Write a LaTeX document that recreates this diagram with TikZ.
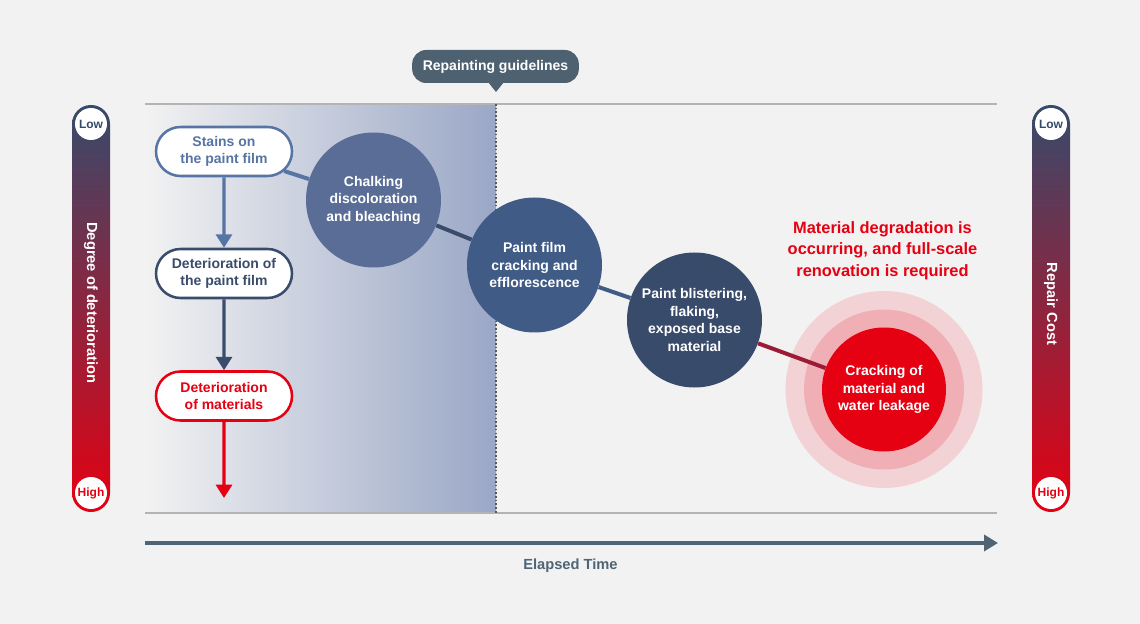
\documentclass[tikz,border=0pt]{standalone}
\usepackage{fontspec}
\setmainfont{Liberation Sans}
\usetikzlibrary{arrows.meta,shapes.misc}
\definecolor{bgc}{HTML}{F2F2F2}
\definecolor{steel}{HTML}{5674A4}
\definecolor{navy}{HTML}{3A4C6C}
\definecolor{redc}{HTML}{E50012}
\definecolor{chalkc}{HTML}{5A6D97}
\definecolor{filmc}{HTML}{3F5B86}
\definecolor{blisc}{HTML}{394B6B}
\definecolor{ringa}{HTML}{F0AEB5}
\definecolor{ringb}{HTML}{F2D2D5}
\definecolor{slate}{HTML}{4E6170}
\definecolor{axisc}{HTML}{4F6475}
\definecolor{gridc}{HTML}{B4B4B4}
\definecolor{shadeR}{HTML}{9AA7C6}
\definecolor{barTop}{HTML}{364A6B}
\definecolor{linkred}{HTML}{9C1B36}
\begin{document}
\begin{tikzpicture}[x=0.75pt,y=-0.75pt,
  stadium/.style={rounded rectangle, draw, fill=white, line width=1.9pt,
    minimum width=102pt, minimum height=36.75pt, inner sep=0pt, align=center,
    font=\bfseries\fontsize{10.5}{12.8}\selectfont},
  stagec/.style={circle, minimum size=101.25pt, inner sep=0pt, align=center,
    text=white, font=\bfseries\fontsize{10.5}{13.1}\selectfont},
  link/.style={line width=3pt},
  flow/.style={line width=2.3pt, -{Triangle[width=12pt,length=10pt]}},
  endmark/.style={circle, fill=white, minimum size=24pt, inner sep=0pt,
    font=\bfseries\fontsize{9}{10}\selectfont},
  bartext/.style={rotate=-90, text=white, font=\bfseries\fontsize{11}{13}\selectfont},
  gridline/.style={draw=gridc, line width=0.9pt}]
% background
\path[fill=bgc] (0,0) rectangle (1140,624);
% shaded zone
\shade[left color=bgc, right color=shadeR] (145,104) rectangle (496,513);
\draw[gridline] (145,104) -- (997,104);
\draw[gridline] (145,513) -- (997,513);
\draw[dash pattern=on 1.2pt off 1.6pt, draw=black!65, line width=0.9pt] (496,104) -- (496,513);
% callout
\node[fill=slate, rounded corners=10.5pt, minimum width=125pt, minimum height=24.75pt,
  inner sep=0pt, text=white, font=\bfseries\fontsize{10.5}{12}\selectfont]
  (guide) at (495.5,66.5) {Repainting guidelines};
\fill[slate] (488,82) -- (504,82) -- (496,92) -- cycle;
% bars
\shade[top color=barTop, bottom color=redc, rounded corners=14.2pt] (72,105) rectangle (110,512);
\shade[top color=barTop, bottom color=redc, rounded corners=14.2pt] (1032,105) rectangle (1070,512);
\node[endmark, text=barTop] (lowL) at (91,124) {Low};
\node[endmark, text=redc] (highL) at (91,493) {High};
\node[endmark, text=barTop] (lowR) at (1051,124) {Low};
\node[endmark, text=redc] (highR) at (1051,493) {High};
\node[bartext] (degree) at (91,303) {Degree of deterioration};
\node[bartext] (cost) at (1051,304) {Repair Cost};
% boxes
\node[stadium, draw=steel, text=steel] (stains) at (224,151.5) {Stains on\\the paint film};
\node[stadium, draw=navy, text=navy] (detfilm) at (224,273.5) {Deterioration of\\the paint film};
\node[stadium, draw=redc, text=redc] (detmat) at (224,396) {Deterioration\\of materials};
\coordinate (redend) at (224,498);
\draw[flow, steel] (stains) -- (detfilm);
\draw[flow, navy] (detfilm) -- (detmat);
\draw[flow, redc] (detmat) -- (redend);
% rings
\node[circle, fill=ringb, minimum size=147.75pt, inner sep=0pt] (ring2) at (884,389.5) {};
\node[circle, fill=ringa, minimum size=120pt, inner sep=0pt] (ring1) at (884,389.5) {};
% circles
\node[stagec, fill=chalkc] (chalk) at (373.5,200) {Chalking\\discoloration\\and bleaching};
\node[stagec, fill=filmc] (film) at (534.5,265) {Paint film\\cracking and\\efflorescence};
\node[stagec, fill=blisc] (blis) at (694.5,320) {Paint blistering,\\flaking,\\exposed base\\material};
\node[stagec, fill=redc, minimum size=93pt] (crack) at (884,389.5) {Cracking of\\material and\\water leakage};
\draw[link, steel] (stains) -- (chalk);
\draw[link, navy] (chalk) -- (film);
\draw[link, filmc] (film) -- (blis);
\draw[link, linkred] (blis) -- (crack);
% red heading
\node[text=redc, align=center, font=\bfseries\fontsize{12.3}{16}\selectfont] (warn) at (882.5,250.5)
  {Material degradation is\\occurring, and full-scale\\renovation is required};
% time axis
\coordinate (t0) at (145,543);
\coordinate (t1) at (998,543);
\draw[axisc, line width=3pt, -{Triangle[width=12pt,length=10.5pt]}] (t0) -- (t1);
\node[text=axisc, font=\bfseries\fontsize{11}{13}\selectfont] (elapsed) at (570.5,566) {Elapsed Time};
\end{tikzpicture}
\end{document}
